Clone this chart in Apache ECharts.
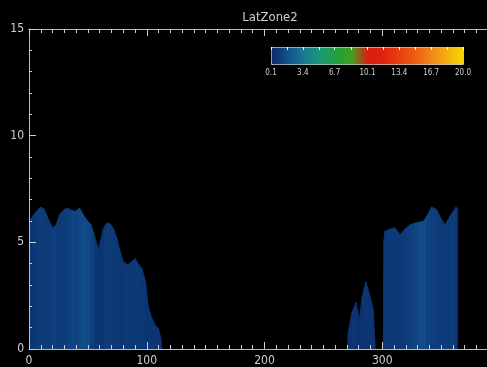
<!DOCTYPE html>
<html>
<head>
<meta charset="utf-8">
<script src="https://cdn.jsdelivr.net/npm/echarts@6/dist/echarts.min.js"></script>
<style>
html,body{margin:0;padding:0;background:#000;}
#chart{width:487px;height:367px;}
</style>
</head>
<body>
<div id="chart"></div>
<script>
// ---- data ----
const title = 'LatZone2';
// left block (days 0 .. 113)
const leftDay   = [0, 3, 7, 10, 13, 17, 20, 23, 26, 30, 33, 36, 39, 43, 46, 49, 53, 56, 59, 61, 63, 66, 69, 72, 75, 78, 80, 84, 88, 90, 93, 96, 99, 101, 104, 107, 110, 112, 113];
const leftTop   = [6.01, 6.21, 6.50, 6.65, 6.55, 6.01, 5.67, 5.81, 6.30, 6.55, 6.60, 6.50, 6.45, 6.60, 6.30, 6.06, 5.81, 5.22, 4.68, 5.13, 5.62, 5.91, 5.86, 5.62, 5.13, 4.44, 4.09, 3.95, 4.14, 4.24, 3.99, 3.75, 3.16, 2.08, 1.49, 1.14, 0.95, 0.50, 0];
const leftLevel = [0.75, 0.8, 0.9, 0.95, 0.85, 1.0, 1.05, 0.95, 0.9, 1.0, 1.2, 1.35, 1.3, 1.55, 1.65, 1.4, 1.1, 0.7, 0.65, 0.7, 0.8, 0.95, 0.9, 0.85, 0.8, 0.75, 0.8, 0.85, 0.8, 0.85, 0.8, 0.75, 0.7, 0.7, 0.7, 0.65, 0.65, 0.6, 0.6];
// small peaks (days 270 .. 294)
const midDay   = [270.4, 271.2, 274.0, 277.7, 279.7, 280.6, 283.0, 286.2, 289.6, 292.4, 294.1];
const midTop   = [0, 0.80, 1.68, 2.18, 1.62, 1.39, 2.47, 3.16, 2.47, 1.85, 0];
const midLevel = [0.6, 0.6, 0.65, 0.65, 0.6, 0.6, 0.65, 0.65, 0.6, 0.6, 0.6];
// right block (days 301 .. 364)
const rightDay   = [300.9, 301.5, 302.3, 306.6, 310.8, 315.1, 319.3, 323.6, 327.0, 330.7, 334.9, 337.7, 342.0, 346.2, 350.5, 353.3, 357.5, 362.6, 363.8];
const rightTop   = [0, 5.13, 5.52, 5.62, 5.68, 5.36, 5.62, 5.82, 5.89, 5.94, 5.98, 6.22, 6.66, 6.53, 6.06, 5.82, 6.22, 6.66, 6.60];
const rightLevel = [0.75, 0.75, 0.8, 0.85, 0.8, 0.8, 0.9, 1.1, 1.3, 1.6, 1.5, 1.2, 1.0, 0.9, 0.85, 0.9, 0.95, 0.8, 0.8];
// colour bar
const barMin = 0.1, barMax = 20.0;
const barLabels = [0.1, 3.4, 6.7, 10.1, 13.4, 16.7, 20.0];
const barColors = ['#0a2868', '#12508c', '#1a7890', '#1a9878', '#20a040', '#40a020', '#d82010', '#e02010', '#e84010', '#ec6010', '#f08818', '#f4b010', '#f8d800'];

// ---- build segments ----
function segments(day, top, level) {
  const out = [];
  for (let i = 0; i < day.length - 1; i++) {
    out.push([day[i], day[i + 1], top[i], top[i + 1], level[i]]);
  }
  return out;
}
const segData = [].concat(
  segments(leftDay, leftTop, leftLevel),
  segments(midDay, midTop, midLevel),
  segments(rightDay, rightTop, rightLevel)
);
// tick marks on colour bar: halfway between labels
const barTicks = [];
for (let i = 0; i < barLabels.length; i++) {
  barTicks.push(barLabels[i]);
  if (i < barLabels.length - 1) barTicks.push((barLabels[i] + barLabels[i + 1]) / 2);
}

const FONT = "'Liberation Sans Narrow', 'DejaVu Sans Condensed', 'Liberation Sans', sans-serif";
const fg = '#cfcfcf';

const chart = echarts.init(document.getElementById('chart'), null, {renderer: 'canvas'});
chart.setOption({
  backgroundColor: '#000',
  animation: false,
  title: {
    text: title, left: 265, top: 6, textAlign: 'center',
    textStyle: {color: fg, fontSize: 13, fontWeight: 'normal', fontFamily: FONT}
  },
  grid: [
    {left: 29, top: 29, right: -13, bottom: 18, containLabel: false, outerBoundsMode: 'none'},
    {left: 271, top: 47, width: 192, height: 17, show: false, containLabel: false, outerBoundsMode: 'none'}
  ],
  xAxis: [
    {
      gridIndex: 0, type: 'value', min: 0, max: 400, interval: 100, position: 'bottom', z: 5,
      axisLine: {lineStyle: {color: '#bbb', width: 1}},
      axisTick: {inside: true, length: 7, lineStyle: {color: fg}},
      minorTick: {show: true, splitNumber: 10, length: 4, lineStyle: {color: fg}},
      splitLine: {show: false},
      axisLabel: {color: fg, fontSize: 12, margin: 6, fontFamily: FONT}
    },
    {
      gridIndex: 0, type: 'value', min: 0, max: 400, interval: 100, position: 'top', z: 5,
      axisLine: {lineStyle: {color: '#bbb', width: 1}},
      axisTick: {inside: true, length: 7, lineStyle: {color: fg}},
      minorTick: {show: true, splitNumber: 10, length: 4, lineStyle: {color: fg}},
      splitLine: {show: false},
      axisLabel: {show: false}
    },
    {
      gridIndex: 1, type: 'value', min: barMin, max: barMax, position: 'bottom', z: 10,
      axisLine: {show: false},
      axisTick: {show: false},
      splitLine: {show: false},
      axisLabel: {
        customValues: barLabels, color: fg, fontSize: 8, margin: 5, fontFamily: FONT,
        formatter: v => v.toFixed(1)
      }
    },
    {
      gridIndex: 1, type: 'value', min: barMin, max: barMax, position: 'top', z: 10,
      axisLine: {show: false},
      axisTick: {show: true, inside: true, length: 3, customValues: barTicks, lineStyle: {color: '#fff'}},
      splitLine: {show: false},
      axisLabel: {show: false}
    }
  ],
  yAxis: [
    {
      gridIndex: 0, type: 'value', min: 0, max: 15, interval: 5, z: 5,
      axisLine: {show: true, lineStyle: {color: '#bbb', width: 1}},
      axisTick: {show: true, inside: true, length: 7, lineStyle: {color: fg}},
      minorTick: {show: true, splitNumber: 5, length: 3, lineStyle: {color: fg}},
      splitLine: {show: false},
      axisLabel: {color: fg, fontSize: 12, margin: 5, fontFamily: FONT}
    },
    {gridIndex: 1, type: 'value', min: 0, max: 1, show: false}
  ],
  visualMap: {
    type: 'continuous', min: barMin, max: barMax, dimension: 4, seriesIndex: 0,
    orient: 'horizontal', left: 271, top: 47, itemWidth: 17, itemHeight: 192,
    calculable: false, hoverLink: false, padding: 0, text: null,
    borderColor: '#bbb', borderWidth: 1,
    inRange: {color: barColors}
  },
  series: [{
    type: 'custom',
    xAxisIndex: 0, yAxisIndex: 0,
    clip: true,
    encode: {x: [0, 1], y: [2, 3]},
    data: segData,
    renderItem: function (params, api) {
      const x0 = api.value(0), x1 = api.value(1), t0 = api.value(2), t1 = api.value(3);
      const pts = [api.coord([x0, 0]), api.coord([x0, t0]), api.coord([x1, t1]), api.coord([x1, 0])];
      const c = api.visual('color');
      return {type: 'polygon', shape: {points: pts}, style: {fill: c, stroke: c, lineWidth: 0.8}};
    }
  }]
});
</script>
</body>
</html>
